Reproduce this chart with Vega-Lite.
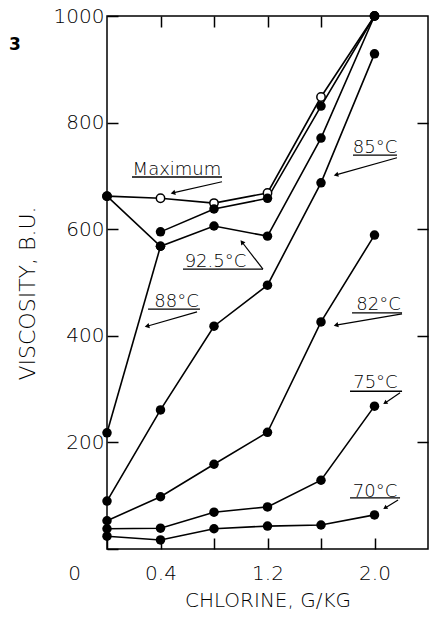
{
  "$schema": "https://vega.github.io/schema/vega-lite/v6.json",
  "width": 321,
  "height": 533,
  "autosize": {"type": "none"},
  "padding": {"left": 107, "top": 16, "right": 1, "bottom": 69},
  "background": "white",
  "config": {
    "view": {"stroke": "black", "strokeWidth": 1.5},
    "font": "DejaVu Sans",
    "axis": {
      "domain": false,
      "grid": false,
      "ticks": true,
      "tickColor": "black",
      "tickWidth": 1.5,
      "tickSize": -11,
      "labelFont": "DejaVu Sans",
      "labelFontSize": 20,
      "labelFontWeight": 300,
      "labelColor": "black",
      "titleFont": "DejaVu Sans",
      "titleFontWeight": 300,
      "titleColor": "black"
    }
  },
  "datasets": {
    "curves": [
      {"curve": "Maximum", "x": 0.0, "y": 662},
      {"curve": "Maximum", "x": 0.4, "y": 658},
      {"curve": "Maximum", "x": 0.8, "y": 649},
      {"curve": "Maximum", "x": 1.2, "y": 668},
      {"curve": "Maximum", "x": 1.6, "y": 848},
      {"curve": "Maximum", "x": 2.0, "y": 1000},
      {"curve": "92.5°C", "x": 0.0, "y": 662},
      {"curve": "92.5°C", "x": 0.4, "y": 568},
      {"curve": "92.5°C", "x": 0.8, "y": 606},
      {"curve": "92.5°C", "x": 1.2, "y": 587},
      {"curve": "92.5°C", "x": 1.6, "y": 771},
      {"curve": "92.5°C", "x": 2.0, "y": 1000},
      {"curve": "88°C", "x": 0.0, "y": 218},
      {"curve": "88°C", "x": 0.4, "y": 568},
      {"curve": "upper", "x": 0.4, "y": 595},
      {"curve": "upper", "x": 0.8, "y": 638},
      {"curve": "upper", "x": 1.2, "y": 658},
      {"curve": "upper", "x": 1.6, "y": 831},
      {"curve": "upper", "x": 2.0, "y": 1000},
      {"curve": "85°C", "x": 0.0, "y": 90},
      {"curve": "85°C", "x": 0.4, "y": 261},
      {"curve": "85°C", "x": 0.8, "y": 418},
      {"curve": "85°C", "x": 1.2, "y": 495},
      {"curve": "85°C", "x": 1.6, "y": 687},
      {"curve": "85°C", "x": 2.0, "y": 929},
      {"curve": "82°C", "x": 0.0, "y": 53},
      {"curve": "82°C", "x": 0.4, "y": 98},
      {"curve": "82°C", "x": 0.8, "y": 159},
      {"curve": "82°C", "x": 1.2, "y": 219},
      {"curve": "82°C", "x": 1.6, "y": 426},
      {"curve": "82°C", "x": 2.0, "y": 589},
      {"curve": "75°C", "x": 0.0, "y": 38},
      {"curve": "75°C", "x": 0.4, "y": 39},
      {"curve": "75°C", "x": 0.8, "y": 69},
      {"curve": "75°C", "x": 1.2, "y": 79},
      {"curve": "75°C", "x": 1.6, "y": 129},
      {"curve": "75°C", "x": 2.0, "y": 268},
      {"curve": "70°C", "x": 0.0, "y": 24},
      {"curve": "70°C", "x": 0.4, "y": 17},
      {"curve": "70°C", "x": 0.8, "y": 38},
      {"curve": "70°C", "x": 1.2, "y": 43},
      {"curve": "70°C", "x": 1.6, "y": 45},
      {"curve": "70°C", "x": 2.0, "y": 64}
    ],
    "labels": [
      {"text": "Maximum", "x": 0.523, "y": 702},
      {"text": "85°C", "x": 2.004, "y": 743},
      {"text": "92.5°C", "x": 0.811, "y": 529},
      {"text": "88°C", "x": 0.52, "y": 454},
      {"text": "82°C", "x": 2.03, "y": 448},
      {"text": "75°C", "x": 2.007, "y": 302},
      {"text": "70°C", "x": 2.004, "y": 98}
    ],
    "underlines": [
      {"label": "Maximum", "x": 0.187, "x2": 0.86, "y": 698},
      {"label": "85°C", "x": 1.839, "x2": 2.168, "y": 739},
      {"label": "92.5°C", "x": 0.568, "x2": 1.166, "y": 525},
      {"label": "88°C", "x": 0.307, "x2": 0.695, "y": 450},
      {"label": "82°C", "x": 1.832, "x2": 2.206, "y": 443},
      {"label": "75°C", "x": 1.817, "x2": 2.206, "y": 296},
      {"label": "70°C", "x": 1.817, "x2": 2.191, "y": 96}
    ],
    "arrows": [
      {"label": "Maximum", "x": 0.86, "y": 689, "x2": 0.493, "y2": 668},
      {"label": "85°C", "x": 2.168, "y": 734, "x2": 1.712, "y2": 702},
      {"label": "92.5°C", "x": 1.166, "y": 525, "x2": 1.009, "y2": 576},
      {"label": "88°C", "x": 0.673, "y": 445, "x2": 0.299, "y2": 418},
      {"label": "82°C", "x": 2.206, "y": 441, "x2": 1.712, "y2": 420},
      {"label": "75°C", "x": 2.191, "y": 293, "x2": 2.079, "y2": 274},
      {"label": "70°C", "x": 2.176, "y": 92, "x2": 2.079, "y2": 77}
    ],
    "panel": [
      {"text": "3", "x": -0.688, "y": 936}
    ]
  },
  "layer": [
    {
      "data": {"name": "curves"},
      "mark": {"type": "line", "color": "black", "strokeWidth": 1.6},
      "encoding": {
        "x": {
          "field": "x", "type": "quantitative",
          "scale": {"domain": [0, 2.4], "nice": false, "zero": false},
          "axis": {
            "orient": "bottom",
            "values": [0, 0.4, 0.8, 1.2, 1.6, 2.0],
            "labelExpr": "datum.value === 0 ? '0' : (datum.value === 0.8 || datum.value === 1.6) ? '' : format(datum.value, '.1f')",
            "labelOffset": {"condition": {"test": "datum.value === 0", "value": -33}, "value": 0},
            "labelPadding": 25,
            "labelFlush": false,
            "title": "CHLORINE, G/KG",
            "titleFontSize": 20,
            "titlePadding": 7
          }
        },
        "y": {
          "field": "y", "type": "quantitative",
          "scale": {"domain": [0, 1000], "nice": false},
          "axis": {
            "orient": "left",
            "values": [0, 200, 400, 600, 800, 1000],
            "labelExpr": "datum.value === 0 ? '' : datum.label",
            "format": "d",
            "labelPadding": 14,
            "labelFlush": false,
            "title": "VISCOSITY, B.U.",
            "titleFontSize": 22,
            "titlePadding": 14,
            "titleY": 277
          }
        },
        "detail": {"field": "curve"}
      }
    },
    {
      "data": {"name": "curves"},
      "transform": [{"filter": "datum.curve === 'Maximum'"}],
      "mark": {"type": "point", "shape": "circle", "filled": true, "fill": "white", "stroke": "black", "strokeWidth": 1.5, "size": 70, "opacity": 1},
      "encoding": {
        "x": {
          "field": "x", "type": "quantitative",
          "axis": {"orient": "top", "values": [0.4, 0.8, 1.2, 1.6], "labels": false, "title": null}
        },
        "y": {
          "field": "y", "type": "quantitative",
          "axis": {"orient": "right", "values": [200, 400, 600, 800], "labels": false, "title": null}
        }
      }
    },
    {
      "data": {"name": "curves"},
      "transform": [{"filter": "datum.curve !== 'Maximum'"}],
      "mark": {"type": "point", "shape": "circle", "filled": true, "color": "black", "size": 90, "opacity": 1},
      "encoding": {
        "x": {"field": "x", "type": "quantitative", "axis": null},
        "y": {"field": "y", "type": "quantitative", "axis": null}
      }
    },
    {
      "data": {"name": "labels"},
      "mark": {"type": "text", "fontSize": 18, "fontWeight": 300, "align": "center", "baseline": "alphabetic", "color": "black", "font": "DejaVu Sans"},
      "encoding": {
        "x": {"field": "x", "type": "quantitative", "axis": null},
        "y": {"field": "y", "type": "quantitative", "axis": null},
        "text": {"field": "text"}
      }
    },
    {
      "data": {"name": "underlines"},
      "mark": {"type": "rule", "color": "black", "strokeWidth": 1.4},
      "encoding": {
        "x": {"field": "x", "type": "quantitative", "axis": null},
        "x2": {"field": "x2"},
        "y": {"field": "y", "type": "quantitative", "axis": null}
      }
    },
    {
      "data": {"name": "arrows"},
      "mark": {"type": "rule", "color": "black", "strokeWidth": 1.2},
      "encoding": {
        "x": {"field": "x", "type": "quantitative", "axis": null},
        "x2": {"field": "x2"},
        "y": {"field": "y", "type": "quantitative", "axis": null},
        "y2": {"field": "y2"}
      }
    },
    {
      "data": {"name": "arrows"},
      "transform": [{"filter": "indexof(['Maximum', '85°C', '88°C', '82°C'], datum.label) >= 0"}],
      "mark": {"type": "point", "shape": "triangle-right", "filled": true, "color": "black", "size": 28, "angle": 166, "opacity": 1},
      "encoding": {
        "x": {"field": "x2", "type": "quantitative", "axis": null},
        "y": {"field": "y2", "type": "quantitative", "axis": null}
      }
    },
    {
      "data": {"name": "arrows"},
      "transform": [{"filter": "datum.label === '92.5°C'"}],
      "mark": {"type": "point", "shape": "triangle-right", "filled": true, "color": "black", "size": 28, "angle": 232, "opacity": 1},
      "encoding": {
        "x": {"field": "x2", "type": "quantitative", "axis": null},
        "y": {"field": "y2", "type": "quantitative", "axis": null}
      }
    },
    {
      "data": {"name": "arrows"},
      "transform": [{"filter": "datum.label === '75°C' || datum.label === '70°C'"}],
      "mark": {"type": "point", "shape": "triangle-right", "filled": true, "color": "black", "size": 24, "angle": 147, "opacity": 1},
      "encoding": {
        "x": {"field": "x2", "type": "quantitative", "axis": null},
        "y": {"field": "y2", "type": "quantitative", "axis": null}
      }
    },
    {
      "data": {"name": "panel"},
      "mark": {"type": "text", "fontSize": 17, "fontWeight": "bold", "align": "center", "baseline": "alphabetic", "color": "black", "font": "DejaVu Sans"},
      "encoding": {
        "x": {"field": "x", "type": "quantitative", "axis": null},
        "y": {"field": "y", "type": "quantitative", "axis": null},
        "text": {"field": "text"}
      }
    }
  ],
  "resolve": {"axis": {"x": "independent", "y": "independent"}}
}
